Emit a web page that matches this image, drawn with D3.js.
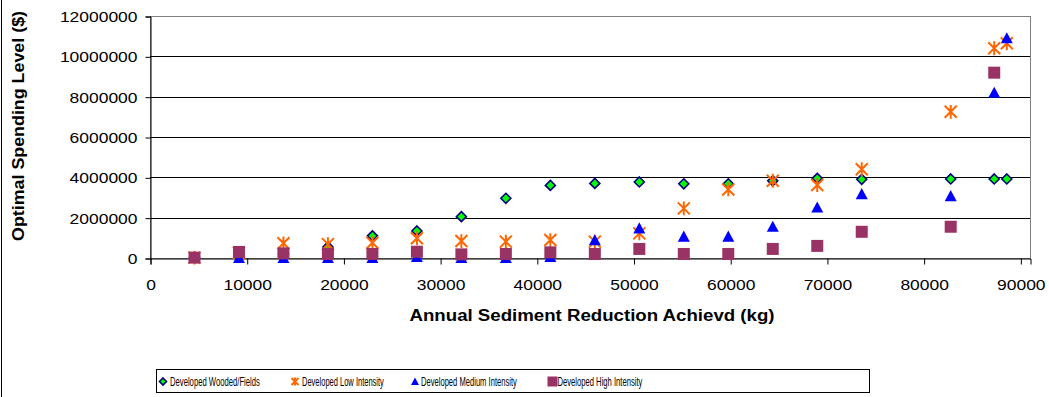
<!DOCTYPE html>
<html>
<head>
<meta charset="utf-8">
<script src="https://cdn.jsdelivr.net/npm/d3@7"></script>
<style>
  html, body { margin: 0; padding: 0; background: #fff; }
  svg { display: block; }
</style>
</head>
<body>
<svg id="chart" width="1049" height="397"></svg>
<script>
// ---- Data ----
const xValues = [4600, 9200, 13800, 18400, 23000, 27600, 32200, 36800, 41400, 46000, 50600, 55200, 59800, 64400, 69000, 73600, 82800, 87300, 88600];
const woodedFields = [20000, 200000, 200000, 550000, 1100000, 1340000, 2050000, 2960000, 3600000, 3700000, 3770000, 3680000, 3680000, 3830000, 3950000, 3900000, 3920000, 3920000, 3920000];
const lowIntensity = [20000, 250000, 730000, 690000, 760000, 980000, 840000, 810000, 890000, 810000, 1220000, 2460000, 3400000, 3830000, 3620000, 4400000, 7250000, 10400000, 10650000];
const mediumIntensity = [0, 0, 0, 0, 0, 50000, 0, 0, 50000, 880000, 1470000, 1060000, 1060000, 1550000, 2510000, 3170000, 3070000, 8200000, 10900000];
const highIntensity = [20000, 300000, 230000, 200000, 200000, 310000, 180000, 200000, 280000, 200000, 450000, 200000, 200000, 450000, 600000, 1300000, 1550000, 9190000, null];
const seriesNames = ["Developed Wooded/Fields", "Developed Low Intensity", "Developed Medium Intensity", "Developed High Intensity"];
const xTicks = [0, 10000, 20000, 30000, 40000, 50000, 60000, 70000, 80000, 90000];
const yTicks = [0, 2000000, 4000000, 6000000, 8000000, 10000000, 12000000];
const xTitle = "Annual Sediment Reduction Achievd (kg)";
const yTitle = "Optimal Spending Level ($)";

// ---- Layout ----
const svg = d3.select("#chart");
const W = 1049, H = 397;
const plot = { left: 150, top: 16, right: 1030, bottom: 258 };

svg.append("rect").attr("x", 0).attr("y", 0).attr("width", W).attr("height", H).attr("fill", "#fff");
// outer chart-area border (left edge visible)
svg.append("line").attr("x1", 1.5).attr("x2", 1.5).attr("y1", 0).attr("y2", H).attr("stroke", "#000").attr("stroke-width", 1);

const x = d3.scaleLinear().domain([0, 91000]).range([plot.left, plot.right]);
const y = d3.scaleLinear().domain([0, 12000000]).range([plot.bottom, plot.top]);

const font = "'Liberation Sans', Arial, sans-serif";
const digitW = 9.7;

// plot area border
svg.append("rect")
  .attr("x", plot.left + 0.5).attr("y", plot.top + 0.5)
  .attr("width", plot.right - plot.left).attr("height", plot.bottom - plot.top)
  .attr("fill", "none").attr("stroke", "#808080").attr("stroke-width", 1);

// gridlines
svg.append("g").selectAll("line")
  .data(yTicks.filter(d => d > 0 && d < 12000000))
  .join("line")
  .attr("x1", plot.left).attr("x2", plot.right)
  .attr("y1", d => Math.round(y(d)) + 0.5).attr("y2", d => Math.round(y(d)) + 0.5)
  .attr("stroke", "#000").attr("stroke-width", 1);

// y axis
const yAxis = d3.axisLeft(y).tickValues(yTicks).tickSize(5).tickPadding(8).tickFormat(d3.format("d"));
const gy = svg.append("g").attr("transform", `translate(${plot.left + 0.5},0.5)`).call(yAxis);
gy.select(".domain").attr("stroke", "#000");
gy.selectAll(".tick line").attr("stroke", "#000");
gy.selectAll("text").attr("font-family", font).attr("font-size", 15.5).attr("fill", "#000")
  .attr("textLength", d => String(d).length * digitW).attr("lengthAdjust", "spacingAndGlyphs");

// x axis
const xAxis = d3.axisBottom(x).tickValues(xTicks).tickSize(6).tickPadding(14).tickFormat(d3.format("d"));
const gx = svg.append("g").attr("transform", `translate(0.5,${plot.bottom + 0.5})`).call(xAxis);
gx.select(".domain").attr("stroke", "#000");
gx.selectAll(".tick line").attr("stroke", "#000");
gx.selectAll("text").attr("font-family", font).attr("font-size", 15.5).attr("fill", "#000")
  .attr("textLength", d => String(d).length * digitW).attr("lengthAdjust", "spacingAndGlyphs");

// axis titles
svg.append("text")
  .attr("x", 592).attr("y", 321)
  .attr("text-anchor", "middle")
  .attr("font-family", font).attr("font-size", 16).attr("font-weight", "bold")
  .attr("textLength", 365).attr("lengthAdjust", "spacingAndGlyphs")
  .text(xTitle);
svg.append("text")
  .attr("transform", `translate(24,126) rotate(-90)`)
  .attr("text-anchor", "middle")
  .attr("font-family", font).attr("font-size", 16).attr("font-weight", "bold")
  .attr("textLength", 230).attr("lengthAdjust", "spacingAndGlyphs")
  .text(yTitle);

// ---- Marker drawers ----
function diamond(g, cx, cy, s) {
  g.append("path")
    .attr("d", `M${cx},${cy - s} L${cx + s},${cy} L${cx},${cy + s} L${cx - s},${cy} Z`)
    .attr("fill", "#00ff00").attr("stroke", "#000080").attr("stroke-width", 1.6);
}
function star(g, cx, cy, s) {
  const p = `M${cx - s},${cy - s} L${cx + s},${cy + s} M${cx - s},${cy + s} L${cx + s},${cy - s} M${cx},${cy - s * 1.15} L${cx},${cy + s * 1.15}`;
  g.append("path").attr("d", p).attr("stroke", "#ff6600").attr("stroke-width", 2).attr("fill", "none");
}
function triangle(g, cx, cy, s) {
  g.append("path")
    .attr("d", `M${cx},${cy - s} L${cx + s},${cy + s * 0.85} L${cx - s},${cy + s * 0.85} Z`)
    .attr("fill", "#0000ff");
}
function square(g, cx, cy, s) {
  g.append("rect").attr("x", cx - s).attr("y", cy - s).attr("width", 2 * s).attr("height", 2 * s)
    .attr("fill", "#993366");
}

const pts = svg.append("g");
const series = [
  { vals: woodedFields, draw: diamond, size: 5 },
  { vals: lowIntensity, draw: star, size: 6 },
  { vals: mediumIntensity, draw: triangle, size: 6 },
  { vals: highIntensity, draw: square, size: 6 }
];
series.forEach(s => {
  xValues.forEach((xv, i) => {
    const v = s.vals[i];
    if (v == null) return;
    s.draw(pts, x(xv), y(v), s.size);
  });
});

// ---- Legend ----
const leg = svg.append("g");
leg.append("rect").attr("x", 156.5).attr("y", 369.5).attr("width", 713).attr("height", 23)
  .attr("fill", "#fff").attr("stroke", "#000").attr("stroke-width", 1);
const legItems = [
  { mx: 163, tx: 170, tw: 90, draw: diamond, size: 3.5 },
  { mx: 295, tx: 302, tw: 82, draw: star, size: 3.5 },
  { mx: 415, tx: 421, tw: 96, draw: triangle, size: 4 },
  { mx: 552.5, tx: 557.5, tw: 85, draw: square, size: 5 }
];
const ly = 381.5;
legItems.forEach((it, i) => {
  it.draw(leg, it.mx, ly, it.size);
  const tg = leg.append("g");
  const t = tg.append("text")
    .attr("x", 0).attr("y", 0)
    .attr("font-family", "'Liberation Sans Narrow', 'Liberation Sans', Arial, sans-serif")
    .attr("font-size", 12)
    .text(seriesNames[i]);
  const natural = t.node().getComputedTextLength();
  const k = it.tw / natural;
  tg.attr("transform", `translate(${it.tx},${ly + 4.5}) scale(${k},1)`);
});
</script>
</body>
</html>
